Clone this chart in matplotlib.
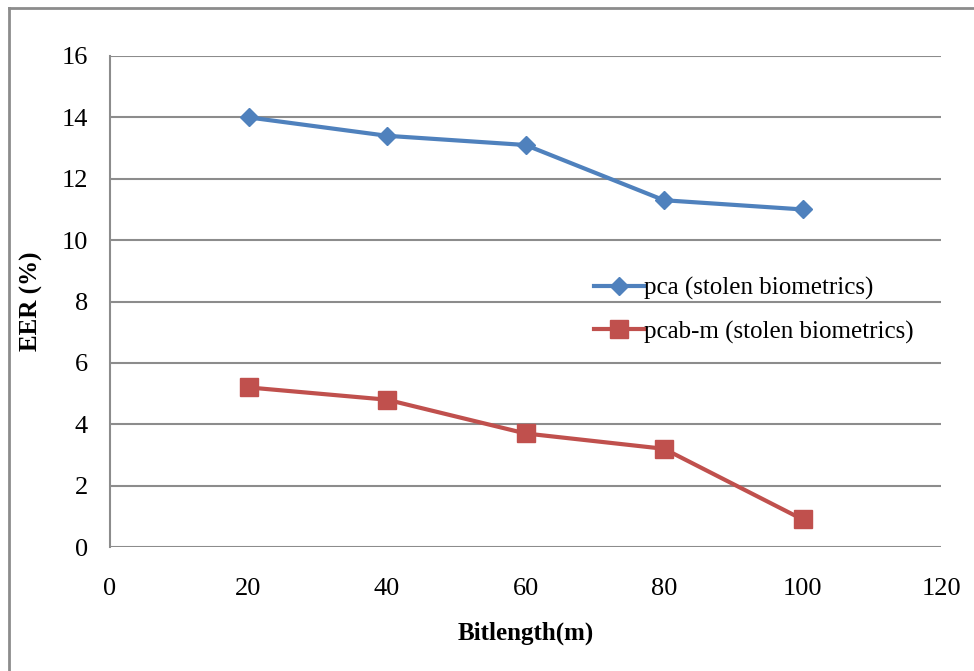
import matplotlib.pyplot as plt
from matplotlib.lines import Line2D

bitlength = [20, 40, 60, 80, 100]
eer_pca = [14.0, 13.4, 13.1, 11.3, 11.0]
eer_pcab = [5.2, 4.8, 3.7, 3.2, 0.9]
labels = ['pca (stolen biometrics)', 'pcab-m (stolen biometrics)']
x_ticks = [0, 20, 40, 60, 80, 100, 120]
y_ticks = [0, 2, 4, 6, 8, 10, 12, 14, 16]

plt.rcParams['font.family'] = ['Liberation Serif', 'DejaVu Serif']

W, H = 974, 671
fig = plt.figure(figsize=(W / 100, H / 100), dpi=100)
ax = fig.add_axes([110 / W, 1 - 547 / H, (941 - 110) / W, (547 - 56) / H])

grid_col = '#8c8c8c'
blue = '#4f81bd'
red = '#c0504d'

for y in y_ticks:
    ax.axhline(y, color=grid_col, lw=1.5, zorder=1)

ax.plot(bitlength, eer_pca, color=blue, lw=3, marker='D', markersize=9.5,
        label=labels[0], zorder=3)
ax.plot(bitlength, eer_pcab, color=red, lw=3, marker='s', markersize=13.5,
        label=labels[1], zorder=3)

ax.set_xlim(0, 120)
ax.set_ylim(0, 16)
ax.set_xticks(x_ticks)
ax.set_yticks(y_ticks)
ax.tick_params(length=0, labelsize=19, colors='black')
ax.tick_params(axis='x', pad=22)
ax.tick_params(axis='y', pad=16)

for side in ['top', 'right', 'bottom']:
    ax.spines[side].set_visible(False)
ax.spines['left'].set_color(grid_col)
ax.spines['left'].set_linewidth(1.5)

ax.set_xlabel('Bitlength(m)', fontsize=18, fontweight='bold')
ax.set_ylabel('EER (%)', fontsize=18, fontweight='bold')
# place axis titles by pixel position in the figure
ax.xaxis.set_label_coords(0.5, (547 - 633) / 491)
ax.xaxis.label.set_va('center')
ax.yaxis.set_label_coords((31 - 110) / 831, 0.5)
ax.yaxis.label.set_va('center')

handles = [
    Line2D([], [], color=blue, lw=3, marker='D', markersize=9.5),
    Line2D([], [], color=red, lw=3, marker='s', markersize=13.5),
]
leg = ax.legend(handles, labels, loc='upper left', bbox_to_anchor=(0.555, 0.595),
                frameon=False, fontsize=18, handlelength=2.0, handletextpad=0.0,
                labelspacing=0.8)

# outer chart border (left and top edges visible)
fig.add_artist(Line2D([9 / W, 9 / W], [0, 1 - 8 / H], color=grid_col, lw=2,
                      transform=fig.transFigure))
fig.add_artist(Line2D([9 / W, 1], [1 - 8 / H, 1 - 8 / H], color=grid_col, lw=2,
                      transform=fig.transFigure))

fig.savefig('out.png', dpi=100)
